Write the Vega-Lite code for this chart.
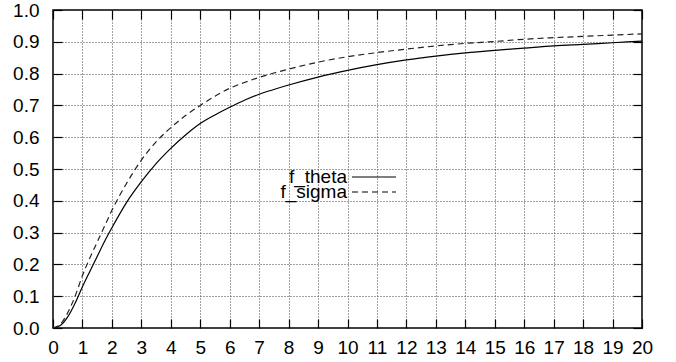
{
  "$schema": "https://vega.github.io/schema/vega-lite/v6.json",
  "width": 589,
  "height": 318,
  "autosize": {"type": "none"},
  "padding": {"left": 53, "top": 10, "right": 34, "bottom": 34},
  "background": "white",
  "config": {
    "view": {"stroke": "black", "strokeWidth": 1.5},
    "font": "Liberation Sans",
    "axis": {
      "domain": false,
      "labelFont": "Liberation Sans",
      "labelFontSize": 19,
      "labelColor": "black",
      "tickColor": "black",
      "tickWidth": 1.2,
      "tickSize": -9,
      "gridColor": "#444",
      "gridDash": [1, 2],
      "gridWidth": 1,
      "title": null
    },
    "legend": {
      "orient": "none",
      "title": null,
      "padding": 0,
      "symbolType": "stroke",
      "symbolSize": 1936,
      "symbolStrokeColor": "black",
      "symbolStrokeWidth": 1.2,
      "labelAlign": "right",
      "labelOffset": -50,
      "labelFont": "Liberation Sans",
      "labelFontSize": 19,
      "labelColor": "black"
    }
  },
  "data": {
    "values": [
      {"x": 0, "y": 0, "series": "f_theta"},
      {"x": 0.25, "y": 0.008, "series": "f_theta"},
      {"x": 0.5, "y": 0.035, "series": "f_theta"},
      {"x": 0.75, "y": 0.078, "series": "f_theta"},
      {"x": 1, "y": 0.13, "series": "f_theta"},
      {"x": 1.25, "y": 0.178, "series": "f_theta"},
      {"x": 1.5, "y": 0.225, "series": "f_theta"},
      {"x": 1.75, "y": 0.272, "series": "f_theta"},
      {"x": 2, "y": 0.315, "series": "f_theta"},
      {"x": 2.5, "y": 0.395, "series": "f_theta"},
      {"x": 3, "y": 0.46, "series": "f_theta"},
      {"x": 3.5, "y": 0.517, "series": "f_theta"},
      {"x": 4, "y": 0.565, "series": "f_theta"},
      {"x": 4.5, "y": 0.607, "series": "f_theta"},
      {"x": 5, "y": 0.643, "series": "f_theta"},
      {"x": 5.5, "y": 0.67, "series": "f_theta"},
      {"x": 6, "y": 0.694, "series": "f_theta"},
      {"x": 6.5, "y": 0.716, "series": "f_theta"},
      {"x": 7, "y": 0.735, "series": "f_theta"},
      {"x": 7.5, "y": 0.75, "series": "f_theta"},
      {"x": 8, "y": 0.764, "series": "f_theta"},
      {"x": 9, "y": 0.789, "series": "f_theta"},
      {"x": 10, "y": 0.81, "series": "f_theta"},
      {"x": 11, "y": 0.828, "series": "f_theta"},
      {"x": 12, "y": 0.843, "series": "f_theta"},
      {"x": 13, "y": 0.855, "series": "f_theta"},
      {"x": 14, "y": 0.865, "series": "f_theta"},
      {"x": 15, "y": 0.873, "series": "f_theta"},
      {"x": 16, "y": 0.88, "series": "f_theta"},
      {"x": 17, "y": 0.887, "series": "f_theta"},
      {"x": 18, "y": 0.892, "series": "f_theta"},
      {"x": 19, "y": 0.897, "series": "f_theta"},
      {"x": 20, "y": 0.902, "series": "f_theta"},
      {"x": 0, "y": 0, "series": "f_sigma"},
      {"x": 0.25, "y": 0.012, "series": "f_sigma"},
      {"x": 0.5, "y": 0.048, "series": "f_sigma"},
      {"x": 0.75, "y": 0.1, "series": "f_sigma"},
      {"x": 1, "y": 0.165, "series": "f_sigma"},
      {"x": 1.25, "y": 0.22, "series": "f_sigma"},
      {"x": 1.5, "y": 0.27, "series": "f_sigma"},
      {"x": 1.75, "y": 0.32, "series": "f_sigma"},
      {"x": 2, "y": 0.37, "series": "f_sigma"},
      {"x": 2.5, "y": 0.455, "series": "f_sigma"},
      {"x": 3, "y": 0.528, "series": "f_sigma"},
      {"x": 3.5, "y": 0.585, "series": "f_sigma"},
      {"x": 4, "y": 0.63, "series": "f_sigma"},
      {"x": 4.5, "y": 0.668, "series": "f_sigma"},
      {"x": 5, "y": 0.7, "series": "f_sigma"},
      {"x": 5.5, "y": 0.729, "series": "f_sigma"},
      {"x": 6, "y": 0.754, "series": "f_sigma"},
      {"x": 6.5, "y": 0.772, "series": "f_sigma"},
      {"x": 7, "y": 0.788, "series": "f_sigma"},
      {"x": 7.5, "y": 0.802, "series": "f_sigma"},
      {"x": 8, "y": 0.814, "series": "f_sigma"},
      {"x": 9, "y": 0.836, "series": "f_sigma"},
      {"x": 10, "y": 0.853, "series": "f_sigma"},
      {"x": 11, "y": 0.866, "series": "f_sigma"},
      {"x": 12, "y": 0.877, "series": "f_sigma"},
      {"x": 13, "y": 0.887, "series": "f_sigma"},
      {"x": 14, "y": 0.895, "series": "f_sigma"},
      {"x": 15, "y": 0.901, "series": "f_sigma"},
      {"x": 16, "y": 0.908, "series": "f_sigma"},
      {"x": 17, "y": 0.913, "series": "f_sigma"},
      {"x": 18, "y": 0.917, "series": "f_sigma"},
      {"x": 19, "y": 0.921, "series": "f_sigma"},
      {"x": 20, "y": 0.925, "series": "f_sigma"}
    ]
  },
  "layer": [
    {
      "transform": [{"filter": "datum.series === 'f_theta'"}],
      "mark": {"type": "line", "interpolate": "monotone", "strokeWidth": 1.2},
      "encoding": {
        "x": {
          "field": "x", "type": "quantitative",
          "scale": {"domain": [0, 20], "nice": false, "zero": false},
          "axis": {"orient": "bottom", "values": [0,1,2,3,4,5,6,7,8,9,10,11,12,13,14,15,16,17,18,19,20], "grid": true, "labelPadding": 19, "labelFlush": false}
        },
        "y": {
          "field": "y", "type": "quantitative",
          "scale": {"domain": [0, 1], "nice": false},
          "axis": {"orient": "left", "values": [0,0.1,0.2,0.3,0.4,0.5,0.6,0.7,0.8,0.9,1.0], "format": ".1f", "grid": true, "labelPadding": 23, "labelFlush": false}
        },
        "color": {
          "field": "series", "type": "nominal",
          "scale": {"domain": ["f_theta"], "range": ["black"]},
          "legend": {"legendX": 298, "legendY": 144}
        }
      }
    },
    {
      "transform": [{"filter": "datum.series === 'f_sigma'"}],
      "mark": {"type": "line", "interpolate": "monotone", "strokeWidth": 1.2, "color": "#222"},
      "encoding": {
        "x": {"field": "x", "type": "quantitative", "axis": null},
        "y": {"field": "y", "type": "quantitative", "axis": null},
        "strokeDash": {
          "field": "series", "type": "nominal",
          "scale": {"domain": ["f_sigma"], "range": [[6, 4]]},
          "legend": {"legendX": 298, "legendY": 159}
        }
      }
    },
    {
      "mark": {"type": "line", "strokeOpacity": 0},
      "encoding": {
        "x": {
          "field": "x", "type": "quantitative",
          "axis": {"orient": "top", "values": [0,1,2,3,4,5,6,7,8,9,10,11,12,13,14,15,16,17,18,19,20], "labels": false, "grid": false}
        },
        "y": {
          "field": "y", "type": "quantitative",
          "axis": {"orient": "right", "values": [0,0.1,0.2,0.3,0.4,0.5,0.6,0.7,0.8,0.9,1.0], "labels": false, "grid": false}
        },
        "detail": {"field": "series"}
      }
    }
  ],
  "resolve": {"axis": {"x": "independent", "y": "independent"}}
}
